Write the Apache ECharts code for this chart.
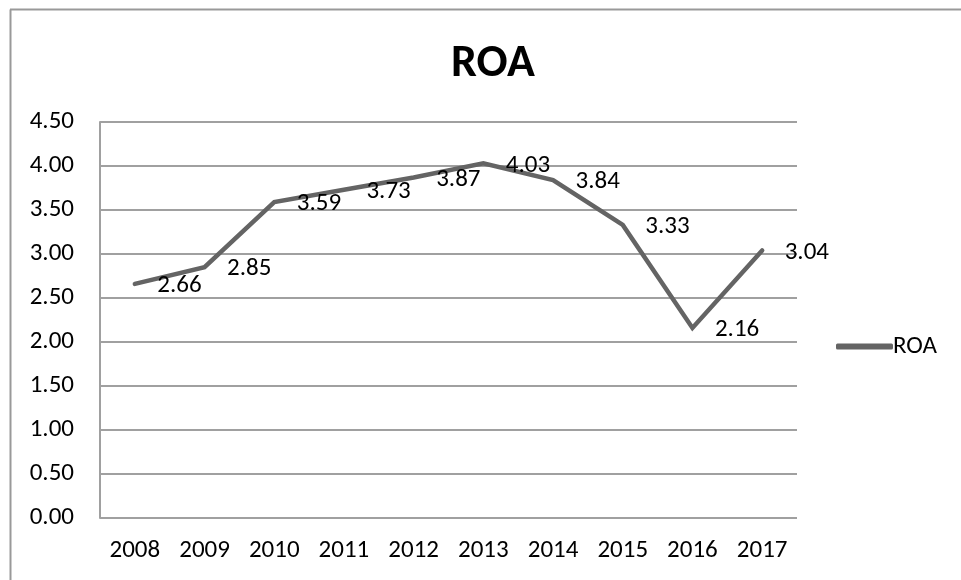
<!DOCTYPE html>
<html>
<head>
<meta charset="utf-8">
<script src="https://cdn.jsdelivr.net/npm/echarts@6/dist/echarts.min.js"></script>
<style>
html,body{margin:0;padding:0;background:#fff;}
#chart{width:961px;height:580px;}
</style>
</head>
<body>
<div id="chart"></div>
<script>
const categories = ['2008','2009','2010','2011','2012','2013','2014','2015','2016','2017'];
const roaValues = [2.66, 2.85, 3.59, 3.73, 3.87, 4.03, 3.84, 3.33, 2.16, 3.04];
const seriesName = 'ROA';
const chartTitle = 'ROA';

const FONT = 'Carlito, Lato, "Open Sans", sans-serif';
const chart = echarts.init(document.getElementById('chart'), null, {renderer:'canvas'});
chart.setOption({
  backgroundColor: '#fff',
  animation: false,
  title: {
    text: chartTitle,
    left: 488, top: 36, textAlign: 'center',
    textStyle: {fontFamily: FONT, fontWeight: 'bold', fontSize: 46, color: '#000'}
  },
  legend: {
    data: [seriesName],
    orient: 'vertical',
    left: 831, top: 329,
    itemWidth: 57, itemHeight: 6, itemGap: 4,
    icon: 'roundRect',
    itemStyle: {color: '#646464', opacity: 1},
    lineStyle: {width: 0},
    textStyle: {fontFamily: FONT, fontSize: 25, color: '#000', padding: [0,0,0,-5]}
  },
  grid: {left: 100, right: 164, top: 122, bottom: 62},
  xAxis: {
    type: 'category', data: categories, boundaryGap: true,
    axisLine: {show: false},
    axisTick: {show: false},
    axisLabel: {fontFamily: FONT, fontSize: 25, color: '#000', margin: 20},
    splitLine: {show: false}
  },
  yAxis: {
    type: 'value', min: 0, max: 4.5, interval: 0.5,
    axisLine: {show: true, lineStyle: {color: '#a0a0a0', width: 2}},
    axisTick: {show: false},
    axisLabel: {fontFamily: FONT, fontSize: 25, color: '#000', margin: 26,
      formatter: v => v.toFixed(2)},
    splitLine: {show: true, lineStyle: {color: '#a0a0a0', width: 2}}
  },
  series: [{
    name: seriesName,
    type: 'line',
    data: roaValues,
    symbol: 'circle', symbolSize: 1, showSymbol: true,
    itemStyle: {color: 'rgba(0,0,0,0)'},
    lineStyle: {color: '#646464', width: 4.5, cap: 'round', join: 'miter'},
    label: {show: true, position: 'right', distance: 22, offset: [0, 2],
      fontFamily: FONT, fontSize: 25, color: '#000',
      formatter: p => p.value.toFixed(2)},
    emphasis: {disabled: true}
  }],
  graphic: [
    {type: 'line', shape: {x1: 10.5, y1: 9.5, x2: 10.5, y2: 600}, style: {stroke: '#999', lineWidth: 2}},
    {type: 'line', shape: {x1: 10, y1: 9.5, x2: 970, y2: 9.5}, style: {stroke: '#999', lineWidth: 2}}
  ]
});
</script>
</body>
</html>
